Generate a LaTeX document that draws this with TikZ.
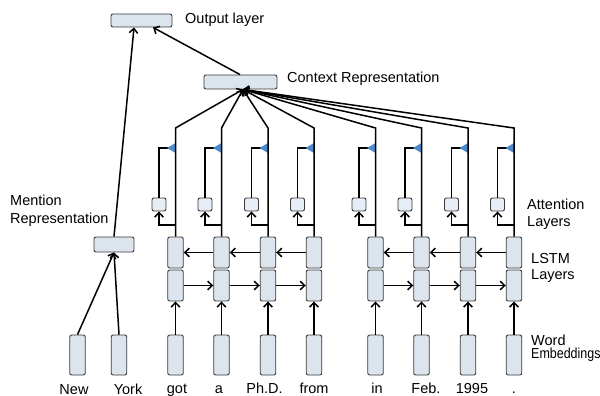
\documentclass[tikz,border=0pt]{standalone}
\usepackage{fontspec}
\usepackage{graphicx}
\setmainfont{Liberation Sans}
\usetikzlibrary{arrows.meta,calc}
\definecolor{boxfill}{HTML}{DCE4EE}
\definecolor{attfill}{HTML}{E6EDF6}
\definecolor{boxline}{HTML}{3A3A3A}
\definecolor{gateblue}{HTML}{4F8BCB}
\begin{document}
\begin{tikzpicture}[x=1pt,y=-1pt,
  cell/.style={draw=boxline, fill=boxfill, line width=0.9pt, rounded corners=2pt,
    inner sep=0pt, minimum width=15.5pt},
  wordbox/.style={cell, minimum height=40pt},
  lstmbox/.style={cell, minimum height=31pt},
  attbox/.style={cell, fill=attfill, minimum width=14pt, minimum height=13pt},
  widebox/.style={cell, minimum height=14pt},
  conn/.style={line width=1.5pt, draw=black},
  arr/.style={conn, -{Straight Barb[length=4.5pt,width=8.5pt]}},
  lbl/.style={font=\fontsize{14.5}{17}\selectfont, inner sep=0pt, anchor=base west},
  wlbl/.style={font=\fontsize{14.5}{17}\selectfont, inner sep=0pt, anchor=base},
]
\useasboundingbox (0,0) rectangle (600,396);

% output, context and mention boxes
\node[widebox, minimum width=61pt, minimum height=13pt] (out) at (141.5,20.5) {};
\node[widebox, minimum width=73pt] (ctx) at (240.5,82) {};
\node[widebox, minimum width=40pt, minimum height=15pt] (men) at (114,244.5) {};
\coordinate (hub) at ($(ctx.south)+(2.5,0)$);

% mention words
\node[wordbox] (wNew) at (77.5,355) {};
\node[wordbox] (wYork) at (119,355) {};

% context columns: embedding, two LSTM cells, attention
\foreach \i/\cx in {1/175.5,2/221.5,3/268,4/314,5/375.5,6/421.5,7/468,8/514} {
  \node[wordbox] (w\i) at (\cx,355) {};
  \node[lstmbox] (lo\i) at (\cx,285.5) {};
  \node[lstmbox] (up\i) at (\cx,252.5) {};
  \node[attbox] (att\i) at (\cx-16.5,204.5) {};
  \coordinate (br\i) at (\cx,225);
  \coordinate (gt\i) at (\cx,148);
  \coordinate (bend\i) at (\cx,128);
  \draw[arr] (w\i.north) -- (lo\i.south);
  \draw[arr] (br\i) -| (att\i.south);
  \draw[conn] (att\i.north) |- ($(gt\i)+(-7,0)$);
  % attention gate
  \fill[gateblue] (gt\i) ++(-8.5,0) -- ++(8.5,-5) -- ++(0,10) -- cycle;
  \draw[arr] (up\i.north) -- (bend\i) -- (hub);
}

% recurrent connections
\foreach \a/\b in {1/2,2/3,3/4,5/6,6/7,7/8} {
  \draw[arr] (lo\a.east) -- (lo\b.west);
  \draw[arr] (up\b.west) -- (up\a.east);
}

% mention and output connections
\draw[arr] (wNew.north) -- (men.south);
\draw[arr] (wYork.north) -- (men.south);
\draw[arr] (men.north) -- ($(out.south)+(-7.5,0)$);
\draw[arr] ($(ctx.north)+(-0.5,0)$) -- ($(out.south)+(11.5,0)$);

% layer labels
\node[lbl] (tOut) at (185,24) {Output layer};
\node[lbl] (tCtx) at (287,82) {Context Representation};
\node[lbl] (tMen1) at (10,205) {Mention};
\node[lbl] (tMen2) at (10,223) {Representation};
\node[lbl] (tAtt1) at (527,209) {Attention};
\node[lbl] (tAtt2) at (527,226) {Layers};
\node[lbl] (tLstm1) at (531,263) {LSTM};
\node[lbl] (tLstm2) at (531,279) {Layers};
\node[lbl] (tEmb1) at (531,345) {Word};
\node[lbl] (tEmb2) at (531,358) {\scalebox{0.86}[1]{Embeddings}};

% words
\node[wlbl] (sNew) at (74,394) {New};
\node[wlbl] (sYork) at (128,394) {York};
\foreach \i/\cx/\word in {1/177/got,2/219/a,3/264.5/Ph.D.,4/314/from,5/377/in,6/426/Feb.,7/472/1995,8/514/.} {
  \node[wlbl] (s\i) at (\cx,393) {\word};
}
\end{tikzpicture}
\end{document}
